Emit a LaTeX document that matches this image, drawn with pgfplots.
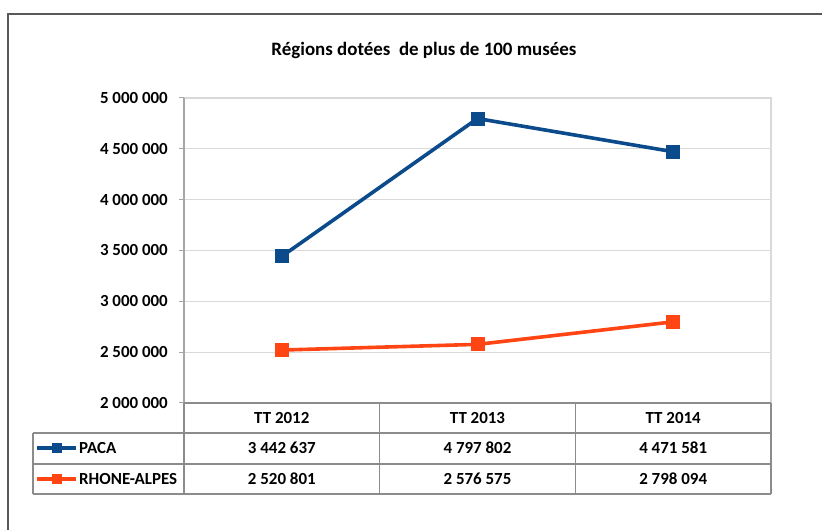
\documentclass[border=0pt]{standalone}
\usepackage{pgfplots}
\pgfplotsset{compat=1.18}
\usepackage{fontspec}
\setmainfont{Carlito}
\definecolor{paca}{RGB}{11,74,139}
\definecolor{rhone}{RGB}{255,69,20}
\definecolor{tbl}{RGB}{140,140,140}
\definecolor{gridc}{RGB}{217,217,217}
\definecolor{axc}{RGB}{166,166,166}
\newcommand{\lab}{\fontsize{17}{19}\selectfont\bfseries}
\begin{document}
\begin{tikzpicture}[x=1bp,y=1bp]
\path[use as bounding box] (0,0) rectangle (822,530);
% outer frame
\draw[color=black!65, line width=1.3bp] (8,-20) -- (8,516) -- (900,516);
\begin{axis}[
  at={(184bp,127bp)}, anchor=south west,
  scale only axis, width=587bp, height=305bp,
  xmin=0.5, xmax=3.5, ymin=2000000, ymax=5000000,
  xtick=\empty,
  ytick={2000000,2500000,3000000,3500000,4000000,4500000,5000000},
  yticklabels={\mbox{2 000 000},\mbox{2 500 000},\mbox{3 000 000},\mbox{3 500 000},\mbox{4 000 000},\mbox{4 500 000},\mbox{5 000 000}},
  yticklabel style={font=\lab, inner sep=0pt, anchor=east, xshift=-11bp},
  ytick pos=left,
  tick align=outside, major tick length=5bp,
  ytick style={draw=axc, line width=1bp},
  ymajorgrids, grid style={draw=gridc, line width=1.3bp},
  axis line style={draw=none},
  clip=false,
  scaled y ticks=false,
]
\addplot[color=paca, line width=3.6bp, mark=square*, mark size=5.2bp, mark options={solid}] coordinates {(1,3442637) (2,4797802) (3,4471581)};
\addplot[color=rhone, line width=3.6bp, mark=square*, mark size=5.2bp, mark options={solid}] coordinates {(1,2520801) (2,2576575) (3,2798094)};
\end{axis}
% plot area borders
\draw[color=gridc, line width=1.3bp] (184,432) -- (771,432) -- (771,127);
\draw[color=axc, line width=1.3bp] (184,432) -- (184,127);
% data table
\begin{scope}[color=tbl, line width=1.3bp]
\draw (184,127) -- (771,127);
\draw (33,97) -- (771,97);
\draw (33,66) -- (771,66);
\draw (33,36) -- (771,36);
\draw (33,97) -- (33,36);
\draw (184,127) -- (184,36);
\draw (379.7,127) -- (379.7,36);
\draw (575.3,127) -- (575.3,36);
\draw (771,127) -- (771,36);
\end{scope}
\node[font=\lab] at (281.8,112) {TT 2012};
\node[font=\lab] at (477.5,112) {TT 2013};
\node[font=\lab] at (673.2,112) {TT 2014};
\node[font=\lab] at (281.8,82) {3 442 637};
\node[font=\lab] at (477.5,82) {4 797 802};
\node[font=\lab] at (673.2,82) {4 471 581};
\node[font=\lab] at (281.8,51) {2 520 801};
\node[font=\lab] at (477.5,51) {2 576 575};
\node[font=\lab] at (673.2,51) {2 798 094};
% legend keys
\draw[color=paca, line width=3.6bp] (37,82) -- (76,82);
\fill[paca] (51.5,76.8) rectangle (61.9,87.2);
\draw[color=rhone, line width=3.6bp] (37,51) -- (76,51);
\fill[rhone] (51.5,45.8) rectangle (61.9,56.2);
\node[font=\lab, anchor=west, inner sep=0pt] at (79,82) {PACA};
\node[font=\lab, anchor=west, inner sep=0pt] at (79,51) {RHONE-ALPES};
% title
\node[font=\fontsize{19}{22}\selectfont\bfseries] at (424,480) {Régions dotées\ \ de plus de 100 musées};
\end{tikzpicture}
\end{document}
